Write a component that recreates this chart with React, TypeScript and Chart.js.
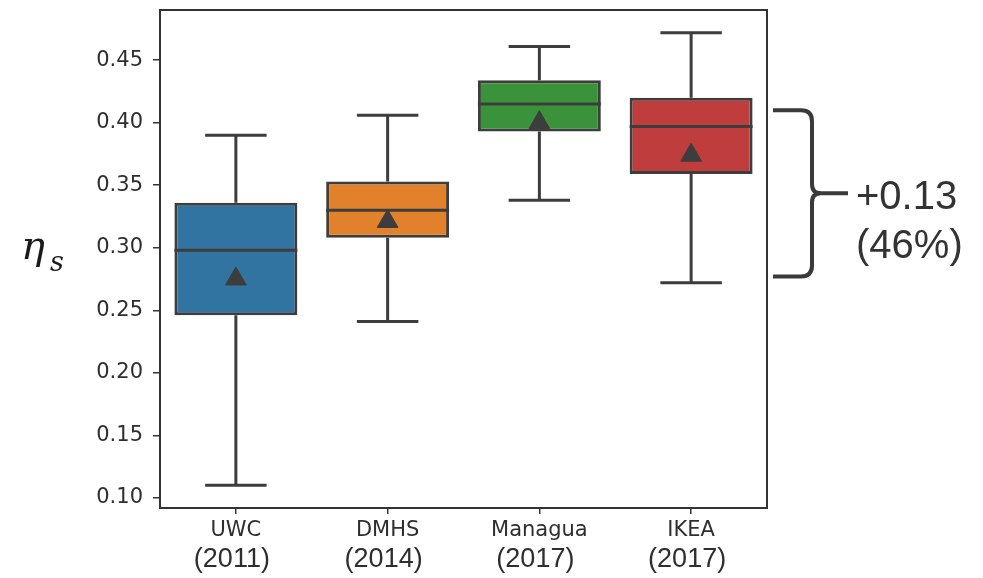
import React, { useEffect, useRef } from 'react';
import { Chart, registerables } from 'chart.js';

Chart.register(...registerables);

// ---- data ----
const categories = ['UWC', 'DMHS', 'Managua', 'IKEA'];
const years = ['(2011)', '(2014)', '(2017)', '(2017)'];
const whiskerLow = [0.110, 0.241, 0.338, 0.272];
const q1 = [0.246, 0.308, 0.393, 0.359];
const median = [0.298, 0.330, 0.415, 0.397];
const q3 = [0.336, 0.353, 0.434, 0.420];
const whiskerHigh = [0.390, 0.406, 0.461, 0.472];
const means = [0.275, 0.321, 0.400, 0.374];
const yTicks = [0.10, 0.15, 0.20, 0.25, 0.30, 0.35, 0.40, 0.45];
const braceRange = [0.277, 0.410];
const braceLabel = ['+0.13', '(46%)'];

// ---- styles ----
const boxColors = ['#3274a1', '#e1812c', '#3a923a', '#c03d3e'];
const LINE = '#3d3d3d';
const TEXT = '#2e2e2e';

const lo = Math.min(...whiskerLow);
const hi = Math.max(...whiskerHigh);
const margin = (hi - lo) * 0.05;

const boxPlugin = {
  id: 'boxWhiskers',
  afterDatasetDraw(chart: any, args: any) {
    if (args.index !== 0) return;
    const ctx = chart.ctx;
    const y = chart.scales.y;
    const meta = chart.getDatasetMeta(0);
    ctx.save();
    ctx.strokeStyle = LINE;
    ctx.lineWidth = 3;
    ctx.lineCap = 'butt';
    meta.data.forEach((bar: any, i: number) => {
      const { x, width } = bar.getProps(['x', 'width'], true);
      const pLo = y.getPixelForValue(whiskerLow[i]);
      const pQ1 = y.getPixelForValue(q1[i]);
      const pMed = y.getPixelForValue(median[i]);
      const pQ3 = y.getPixelForValue(q3[i]);
      const pHi = y.getPixelForValue(whiskerHigh[i]);
      const cap = width / 4;
      ctx.beginPath();
      ctx.moveTo(x, pQ1);
      ctx.lineTo(x, pLo);
      ctx.moveTo(x, pQ3);
      ctx.lineTo(x, pHi);
      ctx.moveTo(x - cap, pLo);
      ctx.lineTo(x + cap, pLo);
      ctx.moveTo(x - cap, pHi);
      ctx.lineTo(x + cap, pHi);
      ctx.moveTo(x - width / 2, pMed);
      ctx.lineTo(x + width / 2, pMed);
      ctx.stroke();
    });
    ctx.restore();
  },
  afterDraw(chart: any) {
    const ctx = chart.ctx;
    const { left, right, top, bottom } = chart.chartArea;
    const xs = chart.scales.x;
    const y = chart.scales.y;
    ctx.save();
    // frame
    ctx.strokeStyle = '#333333';
    ctx.lineWidth = 2;
    ctx.strokeRect(left, top, right - left, bottom - top);

    // year labels
    ctx.fillStyle = TEXT;
    ctx.font = '27px "Liberation Sans", Arial, sans-serif';
    ctx.textAlign = 'center';
    ctx.textBaseline = 'alphabetic';
    years.forEach((t, i) => {
      ctx.fillText(t, xs.getPixelForValue(i) - 4, 567);
    });

    // y title eta_s
    ctx.fillStyle = '#1a1a1a';
    ctx.textAlign = 'left';
    ctx.font = 'italic 40px "DejaVu Serif", serif';
    ctx.fillText('η', 21, 259);
    ctx.font = 'italic 27px "DejaVu Serif", serif';
    ctx.fillText('s', 50, 271);

    // brace
    const yT = y.getPixelForValue(braceRange[1]);
    const yB = y.getPixelForValue(braceRange[0]);
    const yM = (yT + yB) / 2;
    const x0 = right + 6;
    const xv = right + 45;
    const xt = right + 81;
    const r = 11;
    ctx.strokeStyle = '#3a3a3a';
    ctx.lineWidth = 4;
    ctx.lineJoin = 'round';
    ctx.beginPath();
    ctx.moveTo(x0, yT);
    ctx.lineTo(xv - r, yT);
    ctx.quadraticCurveTo(xv, yT, xv, yT + r);
    ctx.lineTo(xv, yM - 9);
    ctx.quadraticCurveTo(xv, yM, xv + 9, yM);
    ctx.lineTo(xt, yM);
    ctx.moveTo(xv + 9, yM);
    ctx.quadraticCurveTo(xv, yM, xv, yM + 9);
    ctx.lineTo(xv, yB - r);
    ctx.quadraticCurveTo(xv, yB, xv - r, yB);
    ctx.lineTo(x0, yB);
    ctx.stroke();

    ctx.fillStyle = '#333333';
    ctx.font = '40px "Liberation Sans", Arial, sans-serif';
    ctx.textAlign = 'left';
    ctx.fillText(braceLabel[0], xt + 8, yM + 16);
    ctx.fillText(braceLabel[1], xt + 8, yM + 65);
    ctx.restore();
  },
};

export default function App() {
  const ref = useRef<HTMLCanvasElement | null>(null);
  useEffect(() => {
    document.body.style.margin = '0';
    const canvas = ref.current;
    if (!canvas) return;
    const chart = new Chart(canvas, {
      type: 'bar',
      data: {
        labels: categories,
        datasets: [
          {
            type: 'bar',
            data: q1.map((v, i) => [v, q3[i]]) as any,
            backgroundColor: boxColors,
            borderColor: LINE,
            borderWidth: 3,
            borderSkipped: false,
            barPercentage: 0.81,
            categoryPercentage: 1,
            order: 1,
          } as any,
          {
            type: 'line',
            data: means,
            showLine: false,
            pointStyle: 'triangle',
            pointRadius: 12,
            pointBorderWidth: 1,
            pointBackgroundColor: LINE,
            pointBorderColor: LINE,
            order: 0,
          } as any,
        ],
      },
      options: {
        responsive: false,
        animation: false,
        layout: { autoPadding: false, padding: { top: 10, right: 216, left: 0, bottom: 0 } },
        plugins: { legend: { display: false }, tooltip: { enabled: false } },
        scales: {
          x: {
            offset: true,
            grid: {
              offset: false,
              drawOnChartArea: false,
              drawTicks: true,
              tickLength: 6,
              color: '#333333',
              lineWidth: 1.5,
            },
            border: { display: false },
            ticks: {
              font: { family: '"DejaVu Sans", sans-serif', size: 21 },
              color: TEXT,
              padding: 4,
              maxRotation: 0,
            },
            afterFit(scale: any) {
              scale.height = 70;
              scale.paddingLeft = 0;
              scale.paddingRight = 0;
            },
          },
          y: {
            min: lo - margin,
            max: hi + margin,
            grid: {
              drawOnChartArea: false,
              drawTicks: true,
              tickLength: 7,
              color: '#333333',
              lineWidth: 1.5,
            },
            border: { display: false },
            ticks: {
              font: { family: '"DejaVu Sans", sans-serif', size: 21 },
              color: TEXT,
              padding: 10,
              callback: (v: any) => Number(v).toFixed(2),
            },
            afterBuildTicks(scale: any) {
              scale.ticks = yTicks.map((v) => ({ value: v }));
            },
            afterFit(scale: any) {
              scale.width = 160;
              scale.paddingTop = 0;
              scale.paddingBottom = 0;
            },
          },
        },
      },
      plugins: [boxPlugin],
    });
    return () => chart.destroy();
  }, []);
  return (
    <div style={{ width: 983, height: 578 }}>
      <canvas ref={ref} width={983} height={578} />
    </div>
  );
}
